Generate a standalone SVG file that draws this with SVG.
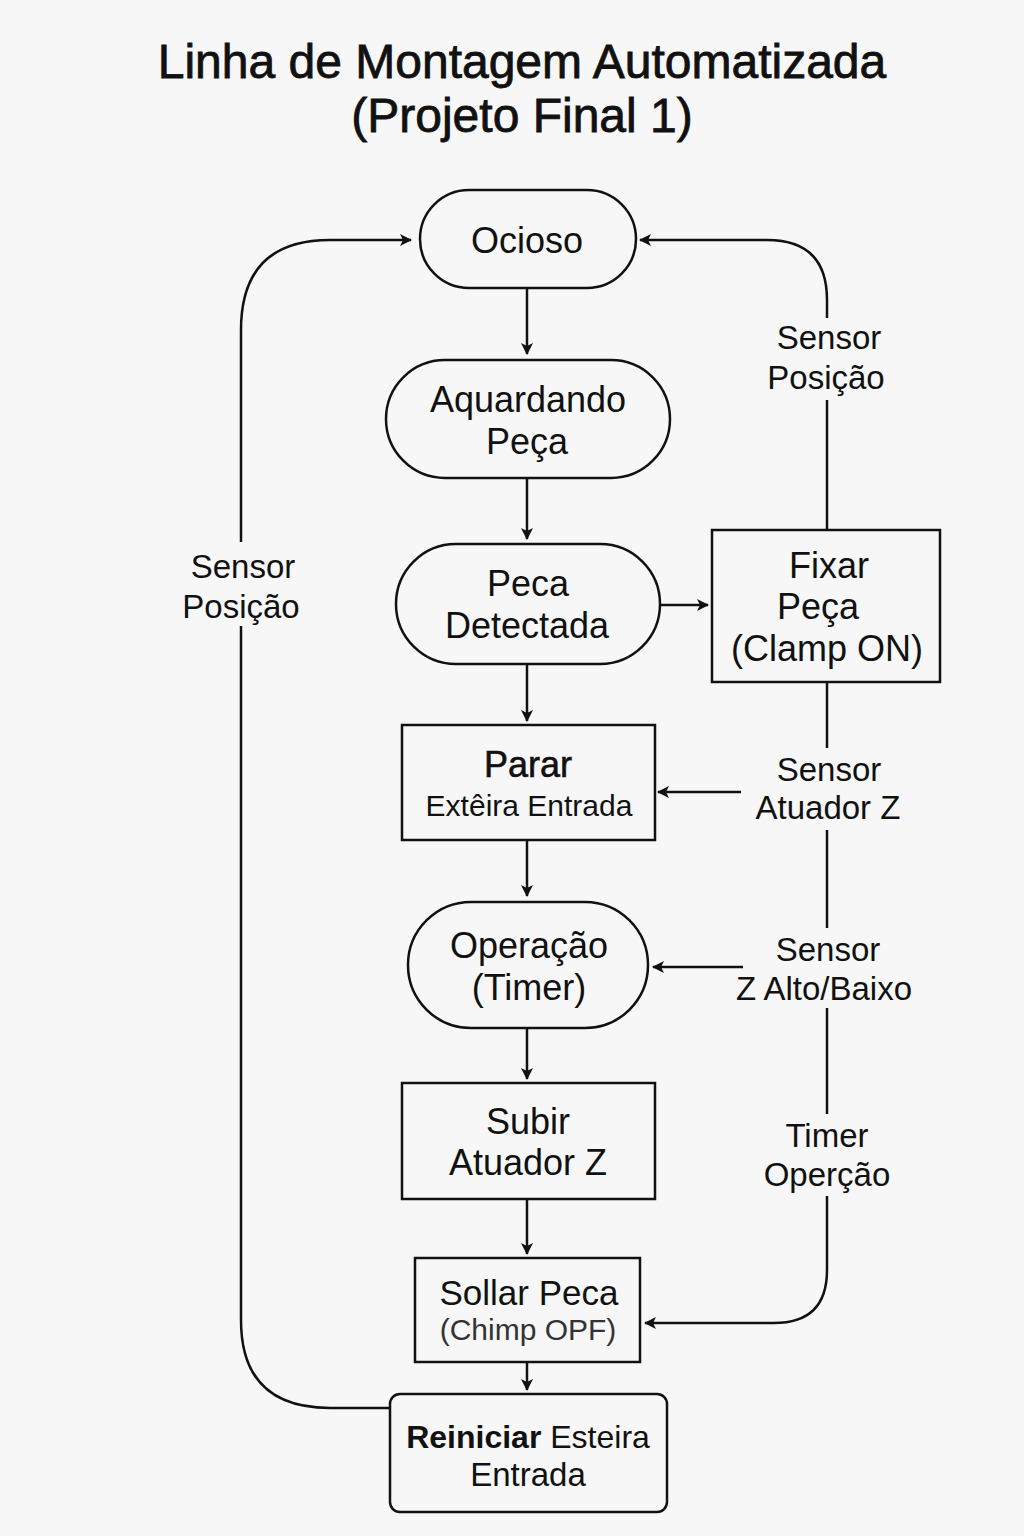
<svg xmlns="http://www.w3.org/2000/svg" width="1024" height="1536" viewBox="0 0 1024 1536">
<defs>
<marker id="ah" markerWidth="12" markerHeight="12" refX="11" refY="6" orient="auto" markerUnits="userSpaceOnUse">
<path d="M0,0 L12,6 L0,12 L3,6 Z" fill="#111"/>
</marker>
<style>
.node{fill:#f7f7f7;stroke:#111;stroke-width:2.5}
.t{font-family:"Liberation Sans","Noto Sans",sans-serif;fill:#111;text-anchor:middle}
.n{font-size:36px}
.lb{font-size:33px}
.e{fill:none;stroke:#111;stroke-width:2.5}
.gap{fill:#f7f7f7;stroke:none}
</style>
</defs>
<rect width="1024" height="1536" fill="#f7f7f7"/>
<text class="t" x="522" y="78" font-size="48" stroke="#111" stroke-width="0.8">Linha de Montagem Automatizada</text>
<text class="t" x="522" y="132" font-size="48" stroke="#111" stroke-width="0.8">(Projeto Final 1)</text>

<g id="connectors">
<path class="e" d="M527,288 L527,354" marker-end="url(#ah)"/>
<path class="e" d="M527,478 L527,539" marker-end="url(#ah)"/>
<path class="e" d="M660,605 L708,605" marker-end="url(#ah)"/>
<path class="e" d="M527,664 L527,721" marker-end="url(#ah)"/>
<path class="e" d="M527,840 L527,896" marker-end="url(#ah)"/>
<path class="e" d="M527,1028 L527,1079" marker-end="url(#ah)"/>
<path class="e" d="M527,1199 L527,1254" marker-end="url(#ah)"/>
<path class="e" d="M527,1362 L527,1390" marker-end="url(#ah)"/>
<path class="e" d="M390,1408 L330,1408 Q241,1408 241,1320 L241,330 Q241,240 330,240 L411,240" marker-end="url(#ah)"/>
<path class="e" d="M827,530 L827,300 Q827,240 767,240 L640,240" marker-end="url(#ah)"/>
<path class="e" d="M827,682 L827,1270 Q827,1323 774,1323 L645,1323" marker-end="url(#ah)"/>
<path class="e" d="M741,792 L658,792" marker-end="url(#ah)"/>
<path class="e" d="M744,967 L653,967" marker-end="url(#ah)"/>
<rect class="gap" x="178" y="542" width="128" height="84"/>
<text class="t lb" x="243" y="578">Sensor</text>
<text class="t lb" x="241" y="618">Posição</text>
<rect class="gap" x="763" y="318" width="128" height="82"/>
<text class="t lb" x="829" y="349">Sensor</text>
<text class="t lb" x="826" y="389">Posição</text>
<rect class="gap" x="746" y="748" width="164" height="82"/>
<text class="t lb" x="829" y="781">Sensor</text>
<text class="t lb" x="828" y="819">Atuador Z</text>
<rect class="gap" x="743" y="928" width="180" height="80"/>
<text class="t lb" x="828" y="961">Sensor</text>
<text class="t lb" x="824" y="1000">Z Alto/Baixo</text>
<rect class="gap" x="746" y="1114" width="164" height="82"/>
<text class="t lb" x="827" y="1147">Timer</text>
<text class="t lb" x="827" y="1186">Operção</text>
</g>

<g id="ocioso">
<rect class="node" x="420" y="190" width="216" height="98" rx="49"/>
<text class="t n" x="527" y="253">Ocioso</text>
</g>
<g id="aguardando">
<rect class="node" x="386" y="360" width="284" height="118" rx="59"/>
<text class="t n" x="528" y="412">Aquardando</text>
<text class="t n" x="527" y="454">Peça</text>
</g>
<g id="peca-detectada">
<rect class="node" x="396" y="544" width="264" height="120" rx="60"/>
<text class="t n" x="528" y="596">Peca</text>
<text class="t n" x="527" y="638">Detectada</text>
</g>
<g id="fixar-peca">
<rect class="node" x="712" y="530" width="228" height="152"/>
<text class="t n" x="829" y="578">Fixar</text>
<text class="t n" x="818" y="619">Peça</text>
<text class="t n" x="827" y="661">(Clamp ON)</text>
</g>
<g id="parar">
<rect class="node" x="402" y="725" width="253" height="115"/>
<text class="t" x="528" y="777" font-size="36" stroke="#111" stroke-width="0.6">Parar</text>
<text class="t" x="529" y="816" font-size="30">Extêira Entrada</text>
</g>
<g id="operacao">
<rect class="node" x="408" y="902" width="240" height="126" rx="63"/>
<text class="t n" x="529" y="958">Operação</text>
<text class="t n" x="529" y="1000">(Timer)</text>
</g>
<g id="subir">
<rect class="node" x="402" y="1083" width="253" height="116"/>
<text class="t n" x="528" y="1134">Subir</text>
<text class="t n" x="528" y="1175">Atuador Z</text>
</g>
<g id="soltar">
<rect class="node" x="415" y="1258" width="225" height="104"/>
<text class="t" x="529" y="1305" font-size="35">Sollar Peca</text>
<text class="t" x="528" y="1340" font-size="30" style="fill:#333">(Chimp OPF)</text>
</g>
<g id="reiniciar">
<rect class="node" x="390" y="1394" width="277" height="118" rx="10"/>
<text class="t" x="528" y="1448" font-size="32"><tspan font-weight="bold">Reiniciar</tspan> Esteira</text>
<text class="t" x="528" y="1486" font-size="33">Entrada</text>
</g>
</svg>
